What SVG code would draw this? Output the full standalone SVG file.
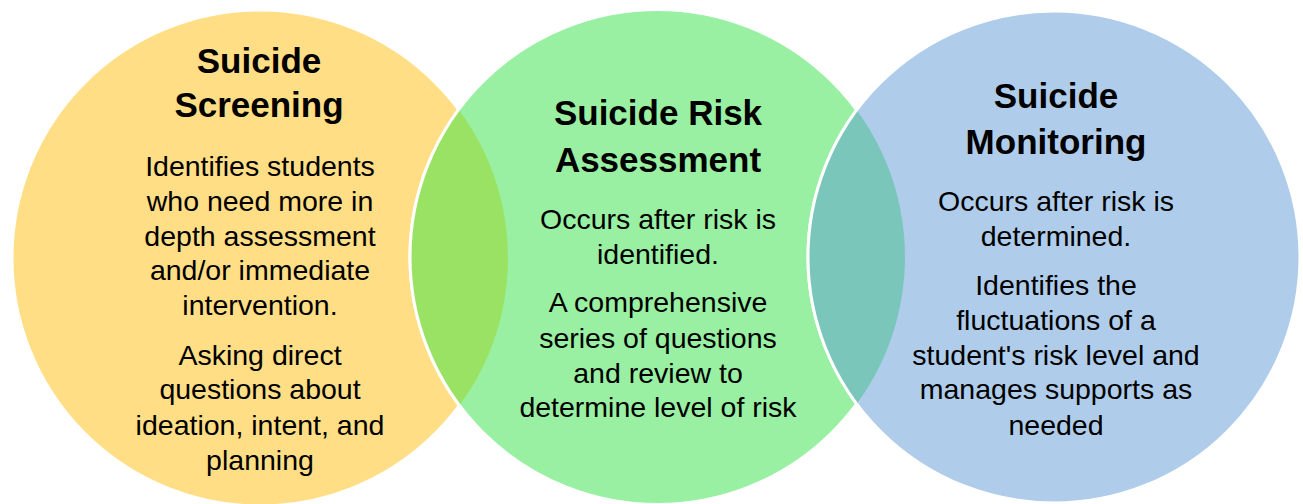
<svg xmlns="http://www.w3.org/2000/svg" width="1303" height="504" viewBox="0 0 1303 504">
<style>
.t{font-family:"Liberation Sans",Arial,sans-serif;font-weight:bold;font-size:35px;fill:#000;text-anchor:middle}
.b{font-family:"Liberation Sans",Arial,sans-serif;font-size:28.5px;fill:#000;text-anchor:middle}
.edge{fill:none;stroke:#fff;stroke-width:3}
</style>
<defs>
<clipPath id="cy"><circle cx="260" cy="258" r="248"/></clipPath>
<clipPath id="cg"><circle cx="657.5" cy="257" r="247.5"/></clipPath>
</defs>
<rect width="1303" height="504" fill="#fff"/>
<g id="screening">
<circle cx="260" cy="258" r="248" fill="#FFDE85" stroke="#fff" stroke-width="3"/>
</g>
<g id="assessment">
<circle cx="657.5" cy="257" r="247.5" fill="#99F0A2" stroke="#fff" stroke-width="3"/>
<circle cx="657.5" cy="257" r="247.5" fill="#9AE264" clip-path="url(#cy)"/>
<circle cx="657.5" cy="257" r="247.5" class="edge" clip-path="url(#cy)"/>
</g>
<g id="monitoring">
<circle cx="1054" cy="257" r="246" fill="#AFCDEA" stroke="#fff" stroke-width="3"/>
<circle cx="1054" cy="257" r="246" fill="#7BC6BA" clip-path="url(#cg)"/>
<circle cx="1054" cy="257" r="246" class="edge" clip-path="url(#cg)"/>
</g>
<g id="screening-text">
<text class="t" x="259" y="73">Suicide</text>
<text class="t" x="259" y="117">Screening</text>
<text class="b" x="260" y="176">Identifies students</text>
<text class="b" x="260" y="211">who need more in</text>
<text class="b" x="260" y="246">depth assessment</text>
<text class="b" x="260" y="280">and/or immediate</text>
<text class="b" x="260" y="315">intervention.</text>
<text class="b" x="260" y="365">Asking direct</text>
<text class="b" x="260" y="399">questions about</text>
<text class="b" x="260" y="435">ideation, intent, and</text>
<text class="b" x="260" y="470">planning</text>
</g>
<g id="assessment-text">
<text class="t" x="658" y="125">Suicide Risk</text>
<text class="t" x="658" y="172">Assessment</text>
<text class="b" x="658" y="229">Occurs after risk is</text>
<text class="b" x="658" y="264">identified.</text>
<text class="b" x="658" y="312">A comprehensive</text>
<text class="b" x="658" y="348">series of questions</text>
<text class="b" x="658" y="383">and review to</text>
<text class="b" x="658" y="417">determine level of risk</text>
</g>
<g id="monitoring-text">
<text class="t" x="1056" y="108">Suicide</text>
<text class="t" x="1056" y="154">Monitoring</text>
<text class="b" x="1056" y="211">Occurs after risk is</text>
<text class="b" x="1056" y="246">determined.</text>
<text class="b" x="1056" y="295">Identifies the</text>
<text class="b" x="1056" y="330">fluctuations of a</text>
<text class="b" x="1056" y="365">student's risk level and</text>
<text class="b" x="1056" y="399">manages supports as</text>
<text class="b" x="1056" y="435">needed</text>
</g>
<g id="connectors"></g>
</svg>
